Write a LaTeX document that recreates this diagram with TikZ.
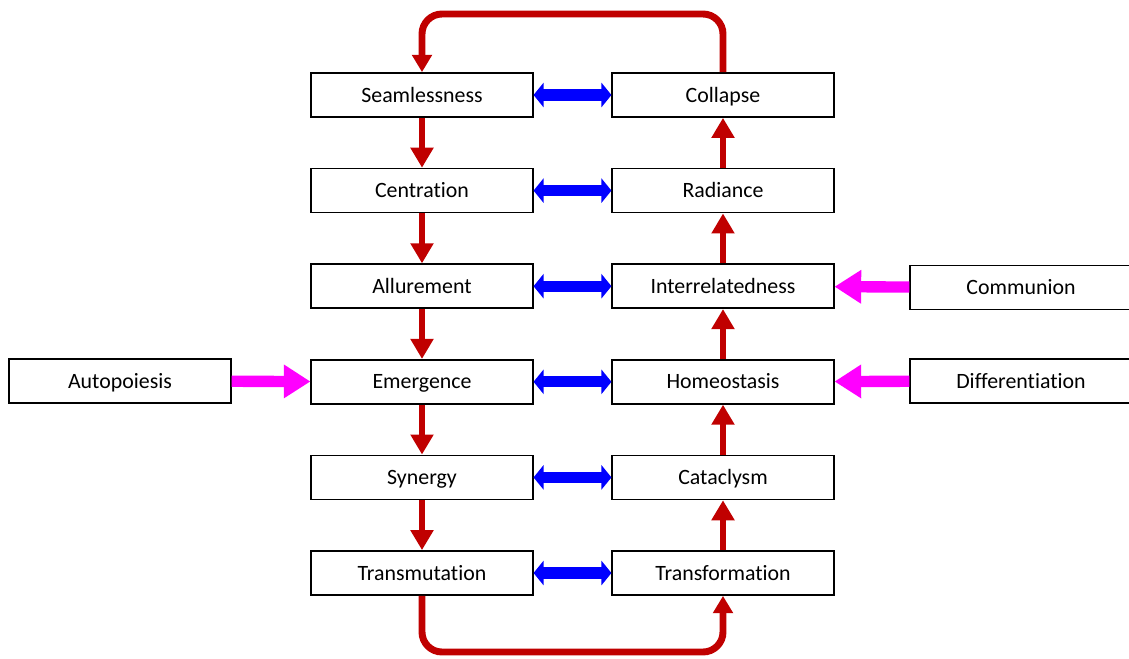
\documentclass[tikz,border=0pt]{standalone}
\usepackage{fontspec}
\setmainfont{Carlito}[Ligatures=NoCommon]
\usetikzlibrary{arrows.meta,calc}
\definecolor{darkred}{HTML}{C00000}
\definecolor{brightpink}{RGB}{255,0,255}
\definecolor{pureblue}{RGB}{0,0,255}
\newcommand{\clrflow}{darkred}
\newcommand{\clrpair}{pureblue}
\newcommand{\clrside}{brightpink}

\begin{document}
\begin{tikzpicture}[x=0.75pt, y=-0.75pt,
    stagebox/.style = {draw, line width=1.3pt, minimum width=166pt, minimum height=33pt, inner sep=0pt, text height=12pt, text depth=1.4pt, font=\fontsize{16.4}{19}\selectfont},
    flow/.style = {draw=\clrflow, line width=5.2pt, -{Triangle[width=16.5pt, length=15pt]}},
    loopflow/.style = {draw=\clrflow, line width=5.2pt, rounded corners=15pt, -{Triangle[width=14.5pt, length=13pt]}},
    pair/.style = {draw=\clrpair, line width=8.5pt, {Triangle[width=18pt, length=7.5pt]}-{Triangle[width=18pt, length=7.5pt]}},
    side/.style = {draw=\clrside, line width=8.5pt, -{Triangle[width=24pt, length=20pt]}}]
    \useasboundingbox (0,0) rectangle (1129,658);
%left column
    \foreach \name [count=\i from 0] in {Seamlessness,Centration,Allurement,Emergence,Synergy,Transmutation} {
        \node[stagebox] (left\i) at (422, 95+\i*95.6) {\name};
    }
%right column
    \foreach \name [count=\i from 0] in {Collapse,Radiance,Interrelatedness,Homeostasis,Cataclysm,Transformation} {
        \node[stagebox] (right\i) at (723, 95+\i*95.6) {\name};
    }
%side boxes
    \node[stagebox] (autopoiesis) at (120, 381) {Autopoiesis};
    \node[stagebox] (communion) at (1021, 287.5) {Communion};
    \node[stagebox] (differentiation) at (1021, 381) {Differentiation};

    \foreach \i [evaluate=\i as \j using int(\i+1)] in {0,...,4} {
        \draw[flow] (left\i) -- (left\j);
        \draw[flow] (right\j) -- (right\i);
    }
    \foreach \i in {0,...,5} {
        \draw[pair] (left\i) -- (right\i);
    }
    \draw[side] (autopoiesis) -- (left3);
    \draw[side] (communion) -- (right2);
    \draw[side] (differentiation) -- (right3);

    %loops
    \draw[loopflow] (right0.north) -- (right0.north |- 0,14) -- (left0.north |- 0,14) -- (left0.north);
    \draw[loopflow] (left5.south) -- (left5.south |- 0,652) -- (right5.south |- 0,652) -- (right5.south);
\end{tikzpicture}
\end{document}
